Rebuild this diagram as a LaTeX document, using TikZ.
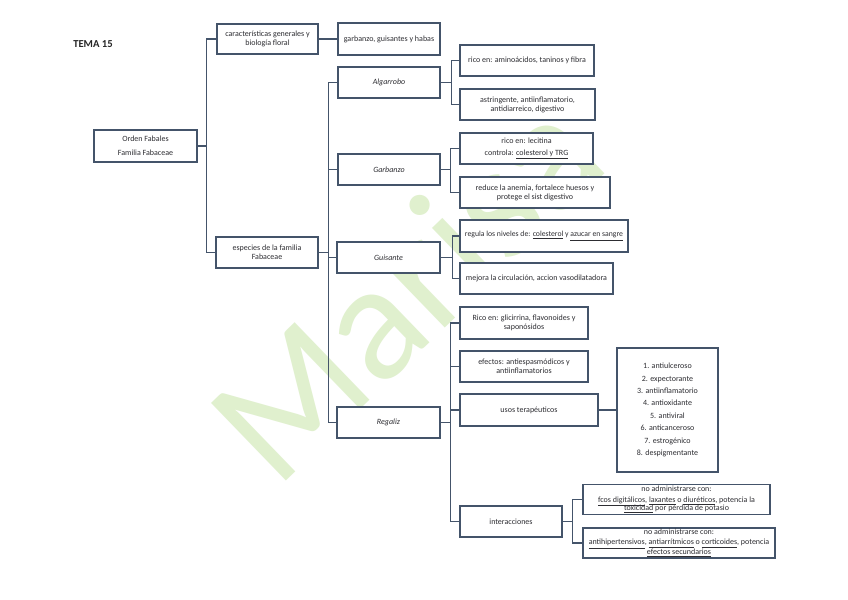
\documentclass[tikz,border=0pt]{standalone}
\usepackage{fontspec}
\setmainfont{Carlito}
\definecolor{linec}{RGB}{68,84,106}
\definecolor{txtc}{RGB}{45,45,50}
\definecolor{wmark}{RGB}{224,240,206}
\newcommand\tightls{\lineskiplimit=-6pt\relax}
\begin{document}
\begin{tikzpicture}[x=0.75pt,y=-0.75pt,
  bx/.style={draw=linec,line width=1.1pt,fill=white,align=center,text=txtc,
    font=\fontsize{6}{6.8}\selectfont,inner sep=0pt},
  sz/.style 2 args={minimum width=#1*0.75pt,minimum height=#2*0.75pt},
  conn/.style={draw=linec,line width=1.1pt}]
\useasboundingbox (0,0) rectangle (848,599);
\fill[white] (0,0) rectangle (848,599);
% watermark
\node[rotate=44,anchor=base west,text=wmark,font=\fontsize{126}{126}\selectfont,inner sep=0pt] (wm) at (276,491) {Marisa};
% title
\node[font=\fontsize{8}{9}\selectfont\bfseries,text=black!85] (tema) at (93,44) {TEMA 15};
% boxes
\node[bx,sz={103}{32}] (orden) at (145.5,146) {Orden Fabales\\[3.6pt]Familia Fabaceae};
\node[bx,sz={101}{30}] (carac) at (267.5,39) {características generales y\\biología floral};
\node[bx,sz={102}{32}] (habas) at (389,39) {garbanzo, guisantes y habas};
\node[bx,sz={102}{31}] (especies) at (267,252.5) {especies de la familia\\Fabaceae};
\node[bx,sz={102}{31}] (algarrobo) at (389,82.5) {\itshape Algarrobo};
\node[bx,sz={102}{31}] (garbanzo) at (389,169.5) {\itshape Garbanzo};
\node[bx,sz={103}{31}] (guisante) at (388.5,257.5) {\itshape Guisante};
\node[bx,sz={103}{31}] (regaliz) at (388.5,422.5) {\itshape Regaliz};
\node[bx,sz={134}{31}] (alg1) at (527,60.5) {rico en: aminoácidos, taninos y fibra};
\node[bx,sz={135}{31}] (alg2) at (527.5,104.5) {astringente, antiinflamatorio,\\antidiarreico, digestivo};
\node[bx,sz={133}{31}] (gar1) at (526.5,148.5) {rico en: lecitina\\[2.1pt]controla: \underline{colesterol y TRG}};
\node[bx,sz={150}{31}] (gar2) at (535,192.5) {reduce la anemia, fortalece huesos y\\protege el sist digestivo};
\node[bx,sz={168}{32},font=\fontsize{5.8}{6.8}\selectfont] (gui1) at (544,236) {regula los niveles de: \underline{colesterol} y \underline{azucar en sangre}};
\node[bx,sz={153}{31}] (gui2) at (536.5,278.5) {mejora la circulación, accion vasodilatadora};
\node[bx,sz={128}{32}] (reg1) at (524,323) {Rico en: glicirrina, flavonoides y\\saponósidos};
\node[bx,sz={128}{31}] (reg2) at (524,366.5) {efectos: antiespasmódicos y\\antiinflamatorios};
\node[bx,sz={138}{32}] (usos) at (529,410) {usos terapéuticos};
\node[bx,sz={101}{124},font=\fontsize{6}{9.3}\selectfont] (lista) at (667.5,410) {1. antiulceroso\\2. expectorante\\3. antiinflamatorio\\4. antioxidante\\5. antiviral\\6. anticanceroso\\7. estrogénico\\8. despigmentante};
\node[bx,sz={102}{31}] (inter) at (511,521.5) {interacciones};
\node[bx,sz={187}{30},font=\fontsize{6}{5.8}\selectfont\tightls] (int1) at (676.5,499.5) {no administrarse con:\\[2.4pt]\underline{fcos digitálicos}, \underline{laxantes} o \underline{diuréticos}, potencia la\\\underline{toxicidad} por pérdida de potasio};
\node[bx,sz={192}{30},font=\fontsize{6}{7.2}\selectfont\tightls] (int2) at (679,543) {no administrarse con:\\[0.8pt]\underline{antihipertensivos}, \underline{antiarrítmicos} o \underline{corticoides}, potencia\\\underline{efectos secundarios}};
% connectors
\draw[conn] (orden.east) -- ++(9,0) coordinate (b1);
\draw[conn] (carac.west) -| (b1) |- (especies.west);
\draw[conn] (carac.east) -- (habas.west);
\draw[conn] (especies.east) -- ++(10,0) coordinate (b2);
\draw[conn] (algarrobo.west) -| (b2) |- (regaliz.west);
\draw[conn] (b2) |- (garbanzo.west);
\draw[conn] (b2) |- (guisante.west);
\draw[conn] (algarrobo.east) -- ++(11,0) coordinate (b3);
\draw[conn] (alg1.west) -| (b3) |- (alg2.west);
\draw[conn] (garbanzo.east) -- ++(10,0) coordinate (b4);
\draw[conn] (gar1.west) -| (b4) |- (gar2.west);
\draw[conn] (guisante.east) -- ++(12,0) coordinate (b5);
\draw[conn] (gui1.west) -| (b5) |- (gui2.west);
\draw[conn] (regaliz.east) -- ++(10,0) coordinate (b6);
\draw[conn] (reg1.west) -| (b6) |- (inter.west);
\draw[conn] (b6) |- (reg2.west);
\draw[conn] (b6) |- (usos.west);
\draw[conn] (usos.east) -- (lista.west);
\draw[conn] (inter.east) -- ++(10,0) coordinate (b7);
\draw[conn] (int1.west) -| (b7) |- (int2.west);
\end{tikzpicture}
\end{document}
